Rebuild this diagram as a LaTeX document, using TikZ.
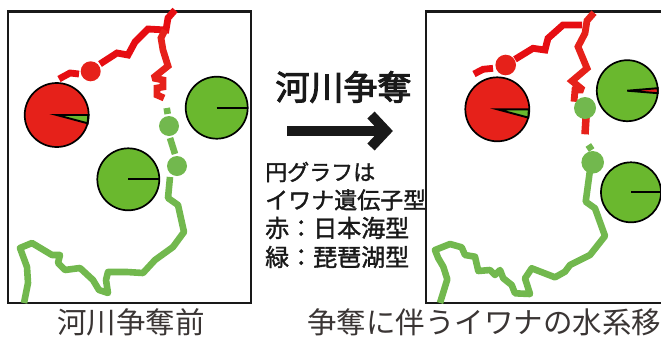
\documentclass[tikz,border=0pt]{standalone}
\usepackage{fontspec}
\setmainfont{Noto Sans CJK JP}
\newfontfamily\medfont[FakeBold=1.5]{Noto Sans CJK JP}
\newfontfamily\titlefont[FakeBold=3]{Noto Sans CJK JP}
\definecolor{rivred}{HTML}{E60D12}
\definecolor{piered}{HTML}{E6211A}
\definecolor{rivgreen}{HTML}{72B84E}
\definecolor{piegreen}{HTML}{6AB82E}
\definecolor{inkgray}{HTML}{3A3534}
\tikzset{
  redriver/.style={draw=rivred, line width=6.8pt, line join=miter, miter limit=2},
  greenriver/.style={draw=rivgreen, line width=6.6pt, line join=round},
  redspot/.style={fill=piered},
  greenspot/.style={fill=rivgreen},
  pierim/.style={draw=black, line width=1.7pt},
  pieline/.style={draw=black, line width=1.9pt},
  frame/.style={draw=black!90, line width=2.2pt},
  caption/.style={text=inkgray, inner sep=0pt},
  legend/.style={anchor=west, inner sep=0pt, text=black!90}
}
\begin{document}
\begin{tikzpicture}[x=1pt,y=-1pt]
    \useasboundingbox (0,0) rectangle (661,338);
    \clip (0,0) rectangle (661,338);

    % before
    \draw[frame] (8,11.5) rectangle (251,303);

    \draw[redriver] (175,10) -- (168,18) -- (166,30) -- (148,29) -- (135,42) -- (128,55) -- (117,53) -- (100,64);
    \draw[redriver] (79,74) -- (70,73) -- (59,79);
    \draw[redriver, draw=piered] (165,30) -- (161,38) -- (163,50) -- (168,66) -- (153,78) -- (163,80) -- (163,87) -- (157,88) -- (157,95) -- (164,98);
    \fill[redspot] (90.7,71.3) circle (10);

    \draw[greenriver] (166.7,108) -- (167.7,114);
    \draw[greenriver] (170,138) -- (175,154);
    \fill[greenspot] (169,126) circle (10);
    \fill[greenspot] (177,166) circle (10);
    \draw[greenriver] (170,177) -- (168,198) -- (178,205) -- (184,232) -- (173,247) -- (155,260) -- (143,273) -- (127,272) -- (108,272) -- (106,280) -- (108,293) -- (99,290) -- (93,280) -- (80,268) -- (65,270) -- (58,263) -- (60,255) -- (52,255) -- (32,243) -- (20,248) -- (27,267) -- (28,283) -- (24,303);

    % before, pies
    \filldraw[pierim, fill=piered] (56.7,115) circle (32);
    \filldraw[pieline, fill=piegreen] (56.7,115) -- +(31.6,0) -- +(31,8.3) -- cycle;
    \filldraw[pierim, fill=piegreen] (216.7,107.7) circle (31);
    \draw[pieline] (216.7,107.7) -- +(31,0);
    \filldraw[pierim, fill=piegreen] (128.3,179.3) circle (31);
    \draw[pieline] (128.3,179.3) -- +(31,0);

    % after
    \draw[frame] (426,11.5) rectangle (680,303);

    \draw[redriver, draw=piered] (594,12.7) -- (587,20.7) -- (585,33.3) -- (578,46.7) -- (587,68.3) -- (572,81) -- (583,90) -- (575,90) -- (574,101.7);
    \draw[redriver] (582,25) -- (563,25) -- (548,38.3) -- (545,50) -- (533,48.3) -- (515,59.3);
    \draw[redriver] (493,68.3) -- (483,69.3) -- (474,74);
    \fill[redspot] (505.7,65) circle (10.3);
    \draw[redriver, draw=piered, line width=7.5pt] (586,118) -- (585,134.3);
    \fill[greenspot] (585,108) circle (11);

    \draw[greenriver] (588.3,145) -- (591.7,150);
    \fill[greenspot] (592.7,162.3) circle (11.3);
    \draw[greenriver] (590,170) -- (585.7,201.7) -- (595,208.3) -- (605,236) -- (590,255) -- (570,265) -- (565,271.7) -- (555,277.3) -- (531.7,268.3) -- (525,278.3) -- (530,294) -- (515,293.3) -- (511.7,285) -- (503.3,278.3) -- (500,270) -- (495,275) -- (490,270) -- (478.3,271) -- (475,256.7) -- (465,255) -- (461.7,247.3) -- (450,244) -- (435,250) -- (438.3,258.3) -- (443.3,266.7) -- (447.3,279.3) -- (440,303);

    % after, pies
    \filldraw[pierim, fill=piered] (497.3,109.3) circle (32);
    \filldraw[pieline, fill=piegreen] (497.3,109.3) -- +(31.6,0) -- +(31,8.3) -- cycle;
    \filldraw[pierim, fill=piegreen] (627.3,90.7) circle (30.5);
    \filldraw[pieline, fill=piered] (627.3,90.7) -- +(30.4,-2.5) -- +(30.4,2.5) -- cycle;
    \filldraw[pierim, fill=piegreen] (631,192.3) circle (30);
    \draw[pieline] (631,192.3) -- +(30,0);

    % centre arrow
    \coordinate (arrowstart) at (287,131);
    \coordinate (arrowtip) at (392,131);
    \coordinate (arrowtop) at (371,115);
    \coordinate (arrowbottom) at (371,147);
    \draw[line width=10pt, black!90] (arrowstart) -- (385,131);
    \draw[line width=10pt, black!90, line join=miter] (arrowtop) -- (386,131) -- (arrowbottom);

    % texts
    \node[inner sep=0pt, text=black!90] (title) at (343.5,87) {\fontsize{34}{36}\selectfont\titlefont 河川争奪};
    \node[legend] (legendone) at (265,172) {\fontsize{22}{24}\selectfont\medfont 円グラフは};
    \node[legend] (legendtwo) at (265,200) {\fontsize{23}{24}\selectfont\medfont イワナ遺伝子型};
    \node[legend] (legendthree) at (265,228) {\fontsize{24}{24}\selectfont\medfont 赤：日本海型};
    \node[legend] (legendfour) at (265,257) {\fontsize{24}{24}\selectfont\medfont 緑：琵琶湖型};
    \node[caption] (captionleft) at (131,322) {\fontsize{29.5}{32}\selectfont 河川争奪前};
    \node[caption, anchor=west] (captionright) at (307,322) {\fontsize{29.5}{32}\selectfont 争奪に伴うイワナの水系移};
\end{tikzpicture}
\end{document}
